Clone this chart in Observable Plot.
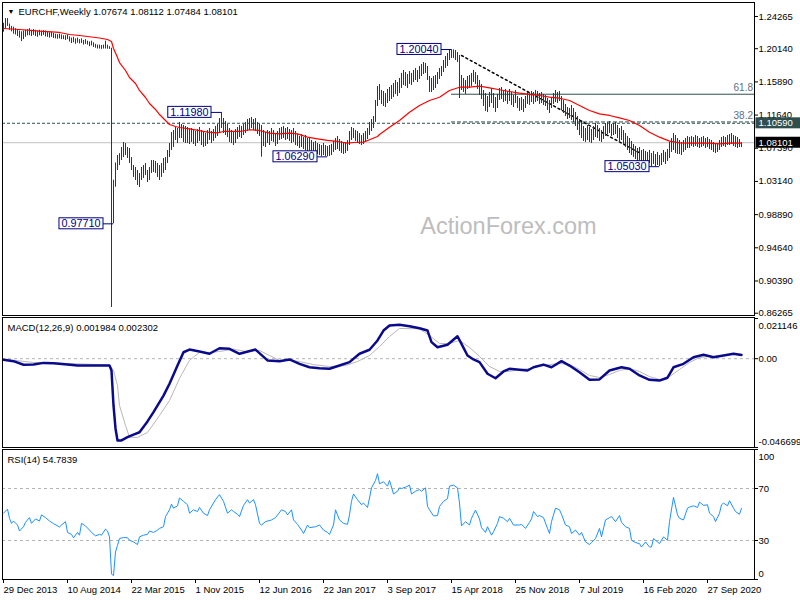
<!DOCTYPE html>
<html><head><meta charset="utf-8">
<script src="https://cdn.jsdelivr.net/npm/d3@7"></script>
<script src="https://cdn.jsdelivr.net/npm/@observablehq/plot@0.6"></script>
<style>
body{margin:0;background:#fff;}
#chart{position:relative;width:800px;height:600px;overflow:hidden;background:#fff;}
#chart svg{position:absolute;left:0;}
</style></head><body><div id="chart"></div>
<script>
// ---------- DATA ----------
const startDate = "2013-12-29"; // week 0 (weekly bars)
const barHigh = [
1.2340,1.2400,1.2400,1.2330,1.2300,1.2290,1.2270,1.2260,1.2240,1.2230,
1.2240,1.2250,1.2260,1.2270,1.2250,1.2260,1.2250,1.2240,1.2250,1.2240,
1.2245,1.2240,1.2230,1.2220,1.2225,1.2210,1.2200,1.2195,1.2200,1.2190,
1.2180,1.2180,1.2190,1.2165,1.2150,1.2160,1.2140,1.2150,1.2130,1.2140,
1.2120,1.2130,1.2110,1.2100,1.2110,1.2090,1.2070,1.2060,1.2060,1.2055,
1.2060,1.2110,1.2060,1.2040,1.2020,1.0330,1.0550,1.0646,1.0670,1.0749,
1.0813,1.0800,1.0749,1.0736,1.0620,1.0518,1.0493,1.0454,1.0416,1.0493,
1.0518,1.0544,1.0454,1.0493,1.0582,1.0582,1.0570,1.0544,1.0518,1.0544,
1.0608,1.0620,1.0710,1.0800,1.0941,1.0966,1.1005,1.0992,1.1069,1.1043,
1.1031,1.1018,1.1005,1.0992,1.0992,1.0966,1.0954,1.0979,1.1005,1.0966,
1.0941,1.0928,1.0966,1.0992,1.0954,1.0979,1.1018,1.1043,1.1120,1.1198,
1.1120,1.1082,1.1043,1.0992,1.0966,1.0941,1.0979,1.1005,1.1031,1.1018,
1.1043,1.1069,1.1107,1.1120,1.1133,1.1107,1.1120,1.1069,1.1043,1.1031,
1.0966,1.0941,1.0966,1.0954,1.0992,1.0966,1.0928,1.0954,1.0992,1.1005,
1.1018,1.0992,1.1005,1.0979,1.0966,1.0992,1.0954,1.0915,1.0890,1.0915,
1.0877,1.0902,1.0864,1.0877,1.0838,1.0813,1.0826,1.0800,1.0787,1.0774,
1.0800,1.0774,1.0762,1.0774,1.0787,1.0826,1.0864,1.0890,1.0851,1.0826,
1.0800,1.0813,1.0838,1.0954,1.1005,1.0992,1.0966,1.0954,1.0928,1.0902,
1.0928,1.0954,1.0992,1.1069,1.1107,1.1146,1.1351,1.1530,1.1556,1.1479,
1.1466,1.1440,1.1492,1.1517,1.1543,1.1569,1.1607,1.1581,1.1633,1.1697,
1.1735,1.1709,1.1684,1.1722,1.1697,1.1735,1.1761,1.1735,1.1786,1.1812,
1.1837,1.1825,1.1786,1.1658,1.1633,1.1658,1.1671,1.1709,1.1761,1.1786,
1.1863,1.1914,1.1953,1.1991,1.2004,1.1999,1.1991,1.1965,1.1927,1.1671,
1.1633,1.1607,1.1658,1.1671,1.1697,1.1735,1.1709,1.1671,1.1607,1.1556,
1.1479,1.1440,1.1402,1.1453,1.1504,1.1440,1.1389,1.1428,1.1504,1.1517,
1.1479,1.1492,1.1466,1.1492,1.1453,1.1415,1.1479,1.1402,1.1376,1.1389,
1.1364,1.1402,1.1453,1.1440,1.1466,1.1453,1.1479,1.1466,1.1440,1.1453,
1.1428,1.1415,1.1376,1.1351,1.1389,1.1440,1.1479,1.1453,1.1466,1.1402,
1.1351,1.1300,1.1261,1.1248,1.1287,1.1248,1.1197,1.1146,1.1107,1.1069,
1.1018,1.0992,1.1031,1.1005,1.0979,1.1018,1.1056,1.1031,1.0992,1.0966,
1.1018,1.1056,1.1069,1.1082,1.1043,1.1056,1.1069,1.1031,1.0992,1.1018,
1.0966,1.0928,1.0890,1.0864,1.0826,1.0787,1.0762,1.0736,1.0749,1.0710,
1.0723,1.0698,1.0685,1.0710,1.0672,1.0698,1.0659,1.0685,1.0646,1.0672,
1.0710,1.0685,1.0723,1.0813,1.0864,1.0928,1.0902,1.0864,1.0838,1.0813,
1.0838,1.0864,1.0890,1.0877,1.0890,1.0877,1.0902,1.0890,1.0864,1.0877,
1.0890,1.0864,1.0877,1.0851,1.0838,1.0813,1.0787,1.0800,1.0838,1.0877,
1.0890,1.0877,1.0902,1.0915,1.0928,1.0902,1.0890,1.0877,1.0851,1.0811];
const barLow = [
1.2225,1.2270,1.2300,1.2250,1.2230,1.2200,1.2190,1.2170,1.2150,1.2105,
1.2130,1.2160,1.2180,1.2180,1.2170,1.2185,1.2170,1.2160,1.2180,1.2170,
1.2185,1.2165,1.2160,1.2150,1.2160,1.2145,1.2140,1.2135,1.2140,1.2130,
1.2130,1.2120,1.2130,1.2100,1.2080,1.2090,1.2070,1.2085,1.2075,1.2080,
1.2060,1.2070,1.2060,1.2040,1.2050,1.2030,1.2020,1.2010,1.2010,1.2005,
1.2010,1.2010,1.2008,1.2005,0.8700,0.9771,1.0240,1.0454,1.0518,1.0582,
1.0620,1.0646,1.0608,1.0544,1.0454,1.0365,1.0326,1.0262,1.0236,1.0326,
1.0352,1.0390,1.0300,1.0326,1.0416,1.0429,1.0416,1.0365,1.0326,1.0365,
1.0416,1.0454,1.0544,1.0620,1.0710,1.0749,1.0838,1.0800,1.0864,1.0864,
1.0813,1.0800,1.0800,1.0787,1.0813,1.0787,1.0762,1.0800,1.0826,1.0774,
1.0749,1.0762,1.0787,1.0838,1.0800,1.0826,1.0864,1.0890,1.0941,1.0992,
1.0928,1.0902,1.0877,1.0813,1.0800,1.0774,1.0800,1.0851,1.0877,1.0864,
1.0902,1.0928,1.0954,1.0966,1.0992,1.0966,1.0954,1.0915,1.0890,1.0625,
1.0762,1.0749,1.0800,1.0774,1.0826,1.0813,1.0762,1.0787,1.0838,1.0851,
1.0864,1.0838,1.0851,1.0826,1.0800,1.0813,1.0774,1.0762,1.0736,1.0749,
1.0723,1.0710,1.0685,1.0698,1.0672,1.0646,1.0685,1.0659,1.0646,1.0634,
1.0646,1.0634,1.0629,1.0634,1.0646,1.0685,1.0710,1.0723,1.0698,1.0672,
1.0659,1.0672,1.0698,1.0774,1.0838,1.0864,1.0826,1.0800,1.0787,1.0774,
1.0787,1.0826,1.0851,1.0902,1.0954,1.0992,1.1069,1.1274,1.1351,1.1300,
1.1274,1.1261,1.1312,1.1338,1.1364,1.1389,1.1428,1.1402,1.1440,1.1504,
1.1543,1.1530,1.1504,1.1556,1.1543,1.1581,1.1607,1.1581,1.1620,1.1658,
1.1684,1.1697,1.1607,1.1453,1.1453,1.1479,1.1504,1.1556,1.1620,1.1658,
1.1709,1.1761,1.1786,1.1863,1.1889,1.1889,1.1863,1.1837,1.1376,1.1479,
1.1453,1.1428,1.1492,1.1504,1.1530,1.1581,1.1556,1.1492,1.1415,1.1364,
1.1274,1.1210,1.1197,1.1261,1.1312,1.1248,1.1197,1.1248,1.1351,1.1364,
1.1325,1.1338,1.1300,1.1338,1.1287,1.1261,1.1312,1.1248,1.1210,1.1223,
1.1197,1.1248,1.1300,1.1287,1.1325,1.1300,1.1325,1.1338,1.1300,1.1312,
1.1287,1.1274,1.1223,1.1184,1.1248,1.1300,1.1325,1.1312,1.1338,1.1223,
1.1184,1.1146,1.1107,1.1120,1.1095,1.1069,1.1018,1.0966,1.0902,1.0864,
1.0826,1.0813,1.0838,1.0813,1.0800,1.0838,1.0877,1.0864,1.0826,1.0813,
1.0851,1.0890,1.0915,1.0928,1.0890,1.0902,1.0915,1.0864,1.0813,1.0838,
1.0774,1.0749,1.0710,1.0672,1.0646,1.0621,1.0595,1.0570,1.0582,1.0544,
1.0557,1.0531,1.0518,1.0544,1.0505,1.0531,1.0505,1.0518,1.0503,1.0518,
1.0557,1.0531,1.0570,1.0608,1.0685,1.0710,1.0672,1.0659,1.0659,1.0646,
1.0685,1.0710,1.0736,1.0736,1.0762,1.0749,1.0762,1.0749,1.0736,1.0749,
1.0762,1.0736,1.0749,1.0723,1.0710,1.0685,1.0672,1.0685,1.0710,1.0749,
1.0762,1.0749,1.0774,1.0774,1.0787,1.0762,1.0749,1.0736,1.0749,1.0748];

// moving average (red) sampled [week, value]
const maPoints = [[0,1.2273],[8,1.2260],[18,1.2238],[28,1.2222],[33,1.2196],[38,1.2183],[48,1.2151],[52,1.2132],[54,1.2106],[55,1.2017],[57,1.1901],[58,1.1837],[61,1.1735],[63,1.1645],[66,1.1568],[68,1.1479],[71,1.1389],[73,1.1312],[76,1.1236],[78,1.1171],[81,1.1095],[83,1.1043],[86,1.1018],[88,1.1005],[93,1.0988],[102,1.0945],[107,1.0937],[110,1.0954],[118,1.0954],[123,1.0976],[128,1.0967],[133,1.0932],[138,1.0924],[143,1.0932],[147,1.0924],[152,1.0881],[157,1.0860],[162,1.0839],[167,1.0826],[172,1.0804],[175,1.0813],[180,1.0817],[183,1.0848],[187,1.0890],[188,1.0915],[193,1.1009],[198,1.1095],[203,1.1201],[208,1.1287],[213,1.1351],[218,1.1393],[223,1.1479],[228,1.1521],[233,1.1521],[238,1.1534],[243,1.1513],[248,1.1488],[253,1.1466],[258,1.1444],[263,1.1428],[268,1.1415],[273,1.1393],[278,1.1380],[283,1.1351],[288,1.1287],[293,1.1223],[298,1.1180],[303,1.1159],[308,1.1129],[313,1.1095],[318,1.1031],[323,1.0945],[328,1.0881],[333,1.0830],[338,1.0809],[343,1.0804],[348,1.0804],[353,1.0804],[358,1.0796],[363,1.0804],[369,1.0804]];

const macdPoints = [[0,-0.0006],[5,-0.0013],[10,-0.0032],[15,-0.0031],[20,-0.0022],[25,-0.0024],[32,-0.0031],[37,-0.0036],[42,-0.0036],[48,-0.0036],[53,-0.0036],[54,-0.0062],[55,-0.0246],[56,-0.0367],[57,-0.0430],[59,-0.0430],[62,-0.0413],[65,-0.0399],[68,-0.0387],[72,-0.0330],[75,-0.0281],[80,-0.0194],[83,-0.0132],[87,-0.0036],[90,0.0034],[93,0.0048],[98,0.0038],[103,0.0026],[108,0.0055],[113,0.0052],[118,0.0026],[126,0.0048],[132,-0.0009],[138,-0.0013],[143,-0.0004],[148,-0.0027],[153,-0.0045],[158,-0.0050],[163,-0.0053],[168,-0.0036],[173,-0.0018],[178,0.0026],[183,0.0047],[187,0.0096],[190,0.0148],[193,0.0175],[198,0.0178],[203,0.0171],[208,0.0160],[212,0.0148],[214,0.0087],[217,0.0060],[222,0.0073],[227,0.0118],[229,0.0078],[232,0.0017],[235,-0.0004],[238,-0.0018],[242,-0.0079],[246,-0.0103],[250,-0.0067],[253,-0.0053],[258,-0.0058],[262,-0.0062],[265,-0.0045],[270,-0.0031],[274,-0.0045],[279,-0.0013],[283,-0.0036],[288,-0.0071],[293,-0.0111],[298,-0.0109],[303,-0.0062],[309,-0.0045],[313,-0.0053],[318,-0.0088],[323,-0.0111],[328,-0.0115],[332,-0.0100],[335,-0.0045],[340,-0.0027],[345,0.0008],[350,0.0021],[355,0.0008],[360,0.0017],[365,0.0026],[369,0.001984]];

const signalPoints = [[0,-0.0002],[15,-0.0020],[32,-0.0025],[53,-0.0033],[55,-0.0062],[57,-0.0141],[58,-0.0246],[61,-0.0351],[63,-0.0413],[67,-0.0414],[72,-0.0388],[78,-0.0299],[83,-0.0220],[88,-0.0104],[93,-0.0009],[98,0.0034],[103,0.0033],[108,0.0038],[115,0.0050],[121,0.0038],[128,0.0043],[133,0.0017],[138,-0.0009],[143,-0.0009],[148,-0.0015],[155,-0.0031],[163,-0.0041],[171,-0.0036],[177,-0.0015],[183,0.0017],[188,0.0064],[193,0.0117],[198,0.0159],[208,0.0157],[213,0.0122],[218,0.0080],[223,0.0080],[228,0.0096],[233,0.0059],[238,0.0012],[243,-0.0041],[248,-0.0067],[253,-0.0067],[258,-0.0057],[263,-0.0052],[268,-0.0041],[273,-0.0031],[278,-0.0025],[283,-0.0031],[288,-0.0057],[293,-0.0088],[298,-0.0099],[303,-0.0083],[308,-0.0062],[313,-0.0052],[318,-0.0067],[323,-0.0094],[328,-0.0109],[333,-0.0094],[338,-0.0057],[343,-0.0020],[348,0.0006],[353,0.0012],[358,0.0014],[363,0.0022],[369,0.002302]];

const rsiPoints = [[0,51],[2,54.1],[3,47.1],[4,43.2],[5,45],[7,41.9],[8,37.3],[10,40.6],[11,44],[13,47.6],[14,43.2],[16,46.6],[18,45],[19,49.7],[21,47.6],[23,45],[25,43],[28,40.4],[29,41.9],[31,44.5],[32,36.2],[34,34.7],[35,32.1],[37,36.2],[38,34.1],[39,43.2],[41,41.2],[43,38],[44,36.2],[46,33.6],[48,34.7],[49,34.1],[51,38.8],[52,37.3],[53,32.8],[54,4.2],[55,3],[56,21.1],[57,26.3],[58,31.5],[60,32.3],[62,32.1],[63,30.2],[65,28.9],[67,26.9],[68,32.8],[70,34.1],[72,34.7],[73,37.3],[75,36.2],[77,38],[78,39.3],[80,40.6],[81,48.4],[83,53.6],[84,58],[85,54.9],[87,56.7],[88,62.7],[90,60.1],[92,57.5],[93,51],[95,53.6],[97,52.3],[98,55.4],[100,51],[102,49.2],[103,53.6],[106,61.4],[108,65.3],[110,60.1],[112,51],[114,53.6],[115,52.3],[117,50.2],[118,48.4],[120,57],[122,61.4],[123,58.8],[125,61.4],[126,57.5],[128,43.2],[129,41.9],[131,44.5],[134,45.8],[136,47.6],[139,53.6],[141,52.3],[142,49.7],[144,53.6],[145,45.8],[147,42.4],[149,38],[150,35.4],[152,41.9],[153,39.9],[156,40.6],[158,41.9],[160,38],[162,36.2],[163,34.7],[165,41.9],[166,53.6],[168,45.8],[170,43.2],[172,42.4],[173,49.7],[174,60.1],[175,65.8],[177,61.4],[179,57.5],[180,58.8],[182,55.4],[183,62.7],[184,70.5],[186,76.2],[187,81.4],[188,73.6],[190,75.2],[192,71.8],[193,76.2],[195,65.8],[197,67.9],[198,70.5],[199,70],[201,71],[203,72.6],[204,65.8],[206,67.9],[208,69.2],[209,67.9],[211,70.5],[212,56.2],[213,53.6],[215,48.9],[217,49.2],[218,56.2],[220,60.1],[222,62.2],[223,71.8],[225,72.6],[227,70.5],[228,58.8],[229,41.2],[231,44.5],[233,41.9],[234,47.1],[236,53.4],[238,46.6],[239,39.9],[241,36.2],[242,40.6],[244,34.1],[245,36.7],[247,43.2],[248,48.4],[250,47.1],[252,44.5],[253,47.1],[255,41.9],[258,41.9],[259,42.4],[261,39.3],[263,44],[264,46.6],[265,52.3],[267,48.4],[268,49.2],[270,47.6],[272,39.3],[273,35.4],[274,44.5],[276,54.9],[278,53.6],[279,50.2],[281,41.9],[283,40.6],[284,35.4],[286,38],[288,34.1],[289,36.2],[291,28.9],[293,26.9],[294,28.4],[296,31.5],[298,39.3],[299,32.8],[301,45.8],[303,47.6],[304,48.4],[306,44.5],[308,49.2],[309,44],[311,40.6],[313,39.3],[314,30.2],[316,28.4],[318,27.6],[319,25],[321,28.9],[323,25],[324,25],[325,31.5],[327,28.9],[328,27.6],[330,32.8],[332,30.2],[333,44.5],[335,63.2],[337,49.7],[338,47.1],[340,45.8],[342,54.9],[343,55.7],[345,56.7],[347,55.4],[348,59.6],[350,57],[352,57.5],[353,51],[355,48.4],[356,44.5],[358,51],[359,57.5],[360,58.8],[362,56.7],[363,60.6],[365,54.9],[366,52.3],[368,50.2],[369,54.7839]];

const symbolTitle = "EURCHF,Weekly";
const lastOHLC = [1.07674, 1.08112, 1.07484, 1.08101];
const macdTitle = "MACD(12,26,9)";
const macdLast = [0.001984, 0.002302];
const rsiTitle = "RSI(14)";
const rsiLast = 54.7839;
const currentPrice = 1.08101;
const keyLevel = 1.10590;
const annotationWeeks = [224, 109, 162, 328, 55];
const annotationPrices = [1.2004, 1.1198, 1.0629, 1.0503, 0.9771];
const fibStartWeek = 224;
const fibLabels = ["61.8", "38.2"];
const fibValues = [1.1431, 1.1076];
const trendPoints = [[229, 1.1927], [318, 1.0680]];
const mainTicks = [1.24265, 1.20140, 1.15890, 1.11640, 1.07390, 1.03140, 0.98890, 0.94640, 0.90390, 0.86265];
const mainDomain = [0.85971, 1.26058];
const macdTicks = [0.021146, 0, -0.046699];
const macdDomain = [-0.046709, 0.021671];
const rsiTicks = [100, 70, 30, 0];
const rsiLevels = [70, 30];
const dateTicks = ["2013-12-29","2014-08-10","2015-03-22","2015-11-01","2016-06-12","2017-01-22","2017-09-03","2018-04-15","2018-11-25","2019-07-07","2020-02-16","2020-09-27"];
const dateLabels = ["29 Dec 2013","10 Aug 2014","22 Mar 2015","1 Nov 2015","12 Jun 2016","22 Jan 2017","3 Sep 2017","15 Apr 2018","25 Nov 2018","7 Jul 2019","16 Feb 2020","27 Sep 2020"];
const watermark = "ActionForex.com";

// ---------- BUILD ----------
if (barHigh.length !== barLow.length) throw new Error("bar arrays mismatch " + barHigh.length + " " + barLow.length);
const t0 = Date.parse(startDate);
const wk = i => new Date(t0 + i * 7 * 864e5);
const xDomain = [wk(-0.5), wk(375.5)];
const font = '"Liberation Sans", Arial, sans-serif';
const style = {fontFamily: font, fontSize: "9.5px", background: "transparent", overflow: "visible", color: "black"};
const barColor = "#143d5e";

const bars = barHigh.map((h, i) => ({date: wk(i), high: h, low: barLow[i]}));
const annotations = annotationWeeks.map((w, i) => ({week: w, price: annotationPrices[i], label: annotationPrices[i].toFixed(5)}));
const fibs = fibLabels.map((l, i) => ({label: l, value: fibValues[i]}));
const P = d => wk(d[0]);
const V = d => d[1];
const common = {width: 800, marginLeft: 2, marginRight: 46, marginTop: 0, x: {type: "utc", domain: xDomain, axis: null}, style};

const main = Plot.plot({
  ...common, height: 313, marginBottom: 0,
  y: {domain: mainDomain, axis: null},
  marks: [
    Plot.text([watermark], {frameAnchor: "middle", text: d => d, dx: 130, dy: 67, fontSize: 23.5, fill: "#bdbdbd"}),
    Plot.ruleY([currentPrice], {stroke: "#c0c0c0"}),
    Plot.ruleY([keyLevel], {stroke: "#2f4f4f", strokeDasharray: "3,2"}),
    Plot.ruleY([fibs[0]], {y: "value", x1: () => wk(fibStartWeek), x2: () => xDomain[1], stroke: "#2f4f4f"}),
    Plot.ruleY([fibs[1]], {y: "value", x1: () => wk(fibStartWeek), x2: () => xDomain[1], stroke: "#2f4f4f", strokeDasharray: "4,2"}),
    Plot.text(fibs, {x: () => xDomain[1], y: "value", text: "label", textAnchor: "end", dx: -1.5, dy: -6.5, fill: "#607080", fontSize: 10}),
    Plot.line(trendPoints, {x: P, y: V, stroke: "black", strokeDasharray: "2,3"}),
    Plot.ruleX(bars, {x: "date", y1: "low", y2: "high", stroke: barColor}),
    Plot.line(maPoints, {x: P, y: V, stroke: "red", strokeWidth: 1.2}),
    Plot.ruleY(annotations, {y: "price", x1: d => wk(d.week - 5), x2: d => wk(d.week), stroke: "#000080"}),
    Plot.text(annotations, {x: d => wk(d.week - 5), y: "price", text: "label", textAnchor: "end", dx: -3, fill: "#000080", fontSize: 10.8}),
    Plot.text(["\u25BC"], {frameAnchor: "top-left", text: d => d, dx: 5, dy: 9, lineAnchor: "middle", fontSize: 7, fill: "black"}),
    Plot.text([symbolTitle + " " + lastOHLC.map(v => v.toFixed(5)).join(" ")], {frameAnchor: "top-left", text: d => d, dx: 16, dy: 9, lineAnchor: "middle", fill: "black"}),
    Plot.frame({stroke: "black"}),
    Plot.axisY({anchor: "right", ticks: mainTicks, tickSize: 3, tickFormat: () => "", label: null}),
    Plot.text(mainTicks, {y: d => d, text: d => d.toFixed(5), frameAnchor: "right", dx: 4, textAnchor: "start", fill: "black"}),
    Plot.text([keyLevel], {y: d => d, text: d => d.toFixed(5), frameAnchor: "right", dx: 4, textAnchor: "start", fill: "white"}),
    Plot.text([currentPrice], {y: d => d, text: d => d.toFixed(5), frameAnchor: "right", dx: 4, textAnchor: "start", fill: "white"})
  ]
});

const macd = Plot.plot({
  ...common, height: 130, marginBottom: 0,
  y: {domain: macdDomain, axis: null},
  marks: [
    Plot.ruleY([0], {stroke: "#b4b4b4", strokeDasharray: "3,3"}),
    Plot.line(signalPoints, {x: P, y: V, stroke: "#b8b8b8", strokeWidth: 1}),
    Plot.line(macdPoints, {x: P, y: V, stroke: "#0a0a8c", strokeWidth: 2.5}),
    Plot.text([macdTitle + " " + macdLast.map(v => v.toFixed(6)).join(" ")], {frameAnchor: "top-left", text: d => d, dx: 5, dy: 10, lineAnchor: "middle", fill: "black"}),
    Plot.frame({stroke: "black"}),
    Plot.axisY({anchor: "right", ticks: macdTicks, tickSize: 3, tickFormat: () => "", label: null}),
    Plot.text([macdTicks[0]], {y: d => d, text: d => d.toFixed(6), frameAnchor: "right", dx: 4, dy: 7, textAnchor: "start", fill: "black"}),
    Plot.text([macdTicks[1]], {y: d => d, text: d => d.toFixed(2), frameAnchor: "right", dx: 4, textAnchor: "start", fill: "black"}),
    Plot.text([macdTicks[2]], {y: d => d, text: d => d.toFixed(6), frameAnchor: "right", dx: 4, dy: -6, textAnchor: "start", fill: "black"})
  ]
});

const rsi = Plot.plot({
  ...common, height: 152, marginBottom: 22,
  y: {domain: [0, 100], axis: null},
  marks: [
    Plot.ruleY(rsiLevels, {stroke: "#b4b4b4", strokeDasharray: "3,3"}),
    Plot.line(rsiPoints, {x: P, y: V, stroke: "#1e90ff", strokeWidth: 1}),
    Plot.text([rsiTitle + " " + rsiLast], {frameAnchor: "top-left", text: d => d, dx: 5, dy: 10, lineAnchor: "middle", fill: "black"}),
    Plot.frame({stroke: "black"}),
    Plot.axisY({anchor: "right", ticks: rsiTicks, tickSize: 3, tickFormat: () => "", label: null}),
    Plot.text([rsiTicks[0]], {y: d => d, text: d => String(d), frameAnchor: "right", dx: 4, dy: 7, textAnchor: "start", fill: "black"}),
    Plot.text(rsiLevels, {y: d => d, text: d => String(d), frameAnchor: "right", dx: 4, textAnchor: "start", fill: "black"}),
    Plot.text([rsiTicks[3]], {y: d => d, text: d => String(d), frameAnchor: "right", dx: 4, dy: -6, textAnchor: "start", fill: "black"}),
    Plot.axisX({ticks: dateTicks.map(d => new Date(d)), tickSize: 4, tickFormat: () => "", label: null}),
    Plot.text(dateTicks, {x: d => new Date(d), text: (d, i) => dateLabels[i], frameAnchor: "bottom", dy: 10, textAnchor: "start", lineAnchor: "middle", fill: "black"})
  ]
});

const root = document.getElementById("chart");
[[main, 2], [macd, 317], [rsi, 449]].forEach(([svg, top]) => { svg.style.top = top + "px"; root.appendChild(svg); });

// draw boxes behind selected labels (matched by their text)
function boxify(svg, labels, o) {
  d3.select(svg).selectAll("text").filter(function () { return labels.includes(this.textContent); }).each(function () {
    const b = this.getBBox();
    const r = d3.select(this.parentNode).insert("rect", () => this)
      .attr("x", b.x - o.px).attr("y", b.y - o.py)
      .attr("width", b.width + o.px + (o.pr ?? o.px)).attr("height", b.height + 2 * o.py)
      .attr("fill", o.fill).attr("stroke", o.stroke || "none");
    const tr = this.getAttribute("transform");
    if (tr) r.attr("transform", tr);
  });
}
boxify(main, annotations.map(a => a.label), {px: 2.5, py: -0.5, fill: "white", stroke: "#000080"});
boxify(main, [keyLevel.toFixed(5)], {px: 3, pr: 10, py: 0, fill: "#2f4f4f"});
boxify(main, [currentPrice.toFixed(5)], {px: 3, pr: 10, py: 0, fill: "black"});
</script></body></html>
